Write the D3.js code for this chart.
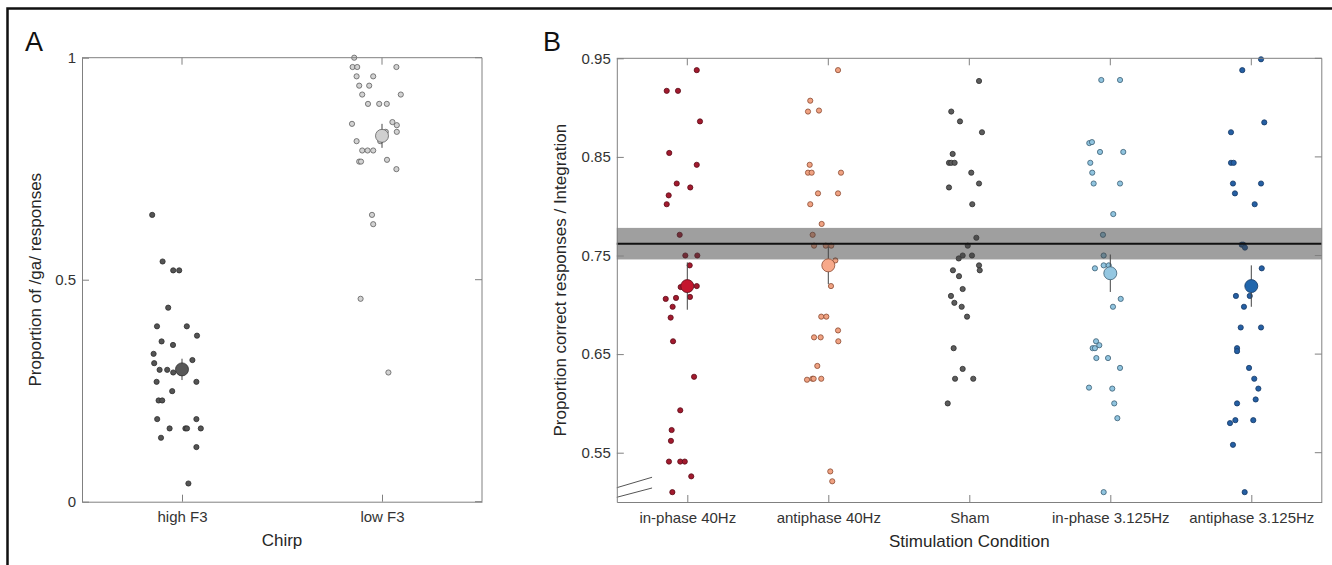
<!DOCTYPE html>
<html lang="en">

<head>
    <meta charset="UTF-8">
    <title>Chirp / Stimulation Condition</title>
    <script src="https://cdnjs.cloudflare.com/ajax/libs/d3/7.9.0/d3.min.js"></script>
    <style>
        body { margin: 0; background: #fff; }
        svg text { font-family: "Liberation Sans", Arial, sans-serif; fill: #262626; }
        .axis path, .axis line { stroke: #808080; }
        .axis text { font-size: 15px; fill: #333; }
    </style>
</head>

<body>
    <div id="chart"></div>

    <script>
        // ---- panel A data ----
        const chirpCats = ['high F3', 'low F3'];
        const chirpTicks = [0, 0.5, 1];
        const highF3Vals = [0.646, 0.541, 0.521, 0.521, 0.437, 0.395, 0.395, 0.374, 0.361, 0.353, 0.333, 0.312, 0.319,
            0.297, 0.297, 0.291, 0.291, 0.270, 0.270, 0.249, 0.228, 0.228, 0.186, 0.186, 0.165, 0.165, 0.165, 0.165,
            0.144, 0.123, 0.041];
        const highF3Jit = [-0.149, -0.097, -0.044, -0.014, -0.069, -0.125, 0.024, 0.075, -0.102, -0.045, -0.142, -0.139, 0.052,
            -0.112, -0.074, -0.044, -0.009, -0.127, 0.072, -0.049, -0.117, -0.099, -0.124, 0.072, -0.062, 0.017, 0.025, 0.094,
            -0.105, 0.072, 0.032];
        const lowF3Vals = [1.0, 0.979, 0.979, 0.979, 0.958, 0.958, 0.937, 0.937, 0.917, 0.917, 0.896, 0.896, 0.896,
            0.851, 0.855, 0.848, 0.833, 0.833, 0.812, 0.812, 0.791, 0.791, 0.791, 0.766, 0.766, 0.770, 0.749,
            0.646, 0.625, 0.457, 0.291];
        const lowF3Jit = [-0.139, -0.147, -0.124, 0.072, -0.127, -0.044, -0.114, -0.064, -0.099, 0.094, -0.070, -0.014, 0.024,
            -0.150, 0.052, 0.074, 0.074, 0.019, -0.009, -0.127, -0.099, -0.072, -0.044, -0.114, -0.105, 0.025, 0.072,
            -0.050, -0.044, -0.107, 0.032];
        const chirpMeans = [0.298, 0.824];
        const chirpErr = [0.024, 0.027];

        // ---- panel B data ----
        const condCats = ['in-phase 40Hz', 'antiphase 40Hz', 'Sham', 'in-phase 3.125Hz', 'antiphase 3.125Hz'];
        const condTicks = [0.55, 0.65, 0.75, 0.85, 0.95];
        const inPhase40Vals = [0.938, 0.917, 0.917, 0.886, 0.854, 0.842, 0.823, 0.819, 0.811, 0.802, 0.771, 0.750, 0.750,
            0.740, 0.718, 0.719, 0.708, 0.706, 0.707, 0.698, 0.687, 0.663, 0.627, 0.593, 0.573, 0.562, 0.541, 0.541,
            0.541, 0.526, 0.510];
        const inPhase40Jit = [0.067, -0.146, -0.066, 0.090, -0.128, 0.067, -0.075, 0.021, -0.132, -0.146, -0.054, -0.014, 0.071,
            0.017, -0.047, 0.067, 0.019, -0.153, -0.080, -0.104, -0.118, -0.101, 0.048, -0.050, -0.111, -0.116, -0.130, -0.050,
            -0.018, 0.028, -0.106];
        const anti40Vals = [0.938, 0.907, 0.896, 0.897, 0.842, 0.834, 0.834, 0.834, 0.813, 0.813, 0.802, 0.782, 0.771,
            0.760, 0.760, 0.760, 0.745, 0.719, 0.688, 0.688, 0.674, 0.667, 0.667, 0.663, 0.638, 0.624, 0.625, 0.625,
            0.625, 0.531, 0.521];
        const anti40Jit = [0.069, -0.128, -0.144, -0.066, -0.132, -0.144, -0.118, 0.090, -0.073, 0.069, -0.128, -0.047, -0.111,
            -0.101, -0.018, 0.021, 0.050, 0.019, -0.050, -0.014, 0.069, -0.101, -0.054, 0.071, -0.078, -0.151, -0.113, -0.104,
            -0.050, 0.014, 0.028];
        const shamVals = [0.927, 0.896, 0.886, 0.875, 0.853, 0.844, 0.844, 0.844, 0.834, 0.823, 0.819, 0.802, 0.768,
            0.760, 0.750, 0.750, 0.747, 0.740, 0.735, 0.735, 0.729, 0.716, 0.709, 0.702, 0.698, 0.688, 0.656, 0.635,
            0.625, 0.625, 0.600];
        const shamJit = [0.069, -0.128, -0.066, 0.090, -0.118, -0.144, -0.128, -0.104, 0.014, 0.069, -0.144, 0.021, 0.050,
            -0.011, -0.047, 0.019, -0.075, 0.069, 0.074, -0.116, -0.073, -0.047, -0.130, -0.106, -0.054, -0.016, -0.111, -0.047,
            -0.101, 0.028, -0.153];
        const inPhase3Vals = [0.928, 0.928, 0.864, 0.865, 0.855, 0.855, 0.844, 0.834, 0.823, 0.823, 0.792, 0.771, 0.750,
            0.737, 0.740, 0.740, 0.706, 0.698, 0.663, 0.656, 0.656, 0.659, 0.646, 0.646, 0.636, 0.616, 0.615, 0.600,
            0.585, 0.510];
        const inPhase3Jit = [-0.064, 0.069, -0.149, -0.130, -0.073, 0.092, -0.142, -0.128, -0.118, 0.069, 0.021, -0.052, -0.047,
            -0.109, -0.047, -0.011, 0.074, 0.019, -0.101, -0.125, -0.109, -0.078, -0.099, -0.016, 0.069, -0.151, 0.014, 0.028,
            0.050, -0.047];
        const anti3Vals = [0.949, 0.938, 0.885, 0.875, 0.844, 0.844, 0.823, 0.823, 0.813, 0.802, 0.761, 0.761, 0.758,
            0.737, 0.709, 0.709, 0.698, 0.677, 0.677, 0.656, 0.653, 0.636, 0.625, 0.615, 0.604, 0.600, 0.580, 0.583,
            0.583, 0.558, 0.510];
        const anti3Jit = [0.069, -0.064, 0.092, -0.144, -0.144, -0.125, -0.130, 0.069, -0.116, 0.024, -0.068, -0.057, -0.045,
            0.074, -0.109, -0.011, -0.052, -0.075, 0.069, -0.101, -0.101, -0.016, 0.021, 0.050, 0.031, -0.101, -0.151, -0.113,
            0.014, -0.130, -0.047];
        const condMeans = [0.719, 0.740, null, 0.732, 0.719];
        const condErr = [0.024, 0.019, null, 0.019, 0.021];
        const shamMean = 0.762;
        const shamBand = [0.746, 0.778];

        const W = 1332, H = 565;
        const svg = d3.select('#chart').append('svg')
            .attr('width', W).attr('height', H);

        // outer figure frame (only left/top edges fall inside the window)
        svg.append('rect')
            .attr('x', 7.5).attr('y', 8.5)
            .attr('width', W + 20).attr('height', H + 20)
            .attr('fill', 'none').attr('stroke', '#111').attr('stroke-width', 2.5);

        function drawPoints(g, x, y, cat, vals, jit, fill, edge) {
            g.selectAll(null)
                .data(vals.map((v, i) => ({ v, j: jit[i] })))
                .enter().append('circle')
                .attr('cx', d => x(cat + d.j))
                .attr('cy', d => y(d.v))
                .attr('r', 2.6)
                .attr('fill', fill)
                .attr('stroke', edge)
                .attr('stroke-width', 0.8);
        }

        function drawMean(g, x, y, cat, m, e, fill, edge, r) {
            g.append('line')
                .attr('x1', x(cat)).attr('x2', x(cat))
                .attr('y1', y(m - e)).attr('y2', y(m + e))
                .attr('stroke', '#444').attr('stroke-width', 1);
            g.append('circle')
                .attr('cx', x(cat)).attr('cy', y(m))
                .attr('r', r)
                .attr('fill', fill).attr('stroke', edge).attr('stroke-width', 0.8);
        }

        function drawBox(g, x, y, xDomain, yDomain, xTicks, yTicks) {
            const x0 = x(xDomain[0]), x1 = x(xDomain[1]);
            const y0 = y(yDomain[0]), y1 = y(yDomain[1]);
            // top and right edges with inward ticks (matlab style box)
            g.append('line').attr('x1', x0).attr('x2', x1).attr('y1', y1).attr('y2', y1)
                .attr('stroke', '#808080');
            g.append('line').attr('x1', x1).attr('x2', x1).attr('y1', y0).attr('y2', y1)
                .attr('stroke', '#808080');
            g.selectAll(null).data(xTicks).enter().append('line')
                .attr('x1', d => x(d)).attr('x2', d => x(d))
                .attr('y1', y1).attr('y2', y1 + 7)
                .attr('stroke', '#808080');
            g.selectAll(null).data(yTicks).enter().append('line')
                .attr('x1', x1).attr('x2', x1 - 7)
                .attr('y1', d => y(d)).attr('y2', d => y(d))
                .attr('stroke', '#808080');
        }

        // ================= Panel A =================
        const xA = d3.scaleLinear().domain([0.5, 2.5]).range([82, 482]);
        const yA = d3.scaleLinear().domain([0, 1]).range([501.7, 57.7]);
        const gA = svg.append('g');

        drawPoints(gA, xA, yA, 1, highF3Vals, highF3Jit, '#545454', '#2e2e2e');
        drawPoints(gA, xA, yA, 2, lowF3Vals, lowF3Jit, '#d2d2d2', '#5e5e5e');
        drawMean(gA, xA, yA, 1, chirpMeans[0], chirpErr[0], '#585858', '#2e2e2e', 6.5);
        drawMean(gA, xA, yA, 2, chirpMeans[1], chirpErr[1], '#cfcfcf', '#5e5e5e', 6.5);

        gA.append('g').attr('class', 'axis')
            .attr('transform', `translate(0,${yA(0)})`)
            .call(d3.axisBottom(xA).tickValues([1, 2]).tickFormat(d => chirpCats[d - 1])
                .tickSizeInner(-7).tickSizeOuter(0).tickPadding(10));
        gA.append('g').attr('class', 'axis')
            .attr('transform', `translate(${xA(0.5)},0)`)
            .call(d3.axisLeft(yA).tickValues(chirpTicks).tickFormat(d3.format('~g'))
                .tickSizeInner(-7).tickSizeOuter(0).tickPadding(6));
        drawBox(gA, xA, yA, [0.5, 2.5], [0, 1], [1, 2], chirpTicks);

        svg.append('text').attr('x', 282).attr('y', 546)
            .attr('text-anchor', 'middle').style('font-size', '17px').text('Chirp');
        svg.append('text')
            .attr('transform', `translate(41,${yA(0.5)}) rotate(-90)`)
            .attr('text-anchor', 'middle').style('font-size', '17px')
            .text('Proportion of /ga/ responses');
        svg.append('text').attr('x', 25).attr('y', 51)
            .style('font-size', '27px').style('fill', '#111').text('A');

        // ================= Panel B =================
        const xB = d3.scaleLinear().domain([0.5, 5.5]).range([616.8, 1321.8]);
        const yB = d3.scaleLinear().domain([0.5, 0.95]).range([502, 58.3]);
        const gB = svg.append('g');

        drawPoints(gB, xB, yB, 1, inPhase40Vals, inPhase40Jit, '#a21a2e', '#5c0c18');
        drawPoints(gB, xB, yB, 2, anti40Vals, anti40Jit, '#f0a282', '#8a4b34');
        drawPoints(gB, xB, yB, 3, shamVals, shamJit, '#5c5c5c', '#2e2e2e');
        drawPoints(gB, xB, yB, 4, inPhase3Vals, inPhase3Jit, '#90c4df', '#3b5e74');
        drawPoints(gB, xB, yB, 5, anti3Vals, anti3Jit, '#255fa3', '#163a66');

        // sham mean with its band, drawn over the points
        gB.append('rect')
            .attr('x', xB(0.5)).attr('width', xB(5.5) - xB(0.5))
            .attr('y', yB(shamBand[1])).attr('height', yB(shamBand[0]) - yB(shamBand[1]))
            .attr('fill', '#404040').attr('fill-opacity', 0.5);
        gB.append('line')
            .attr('x1', xB(0.5)).attr('x2', xB(5.5))
            .attr('y1', yB(shamMean)).attr('y2', yB(shamMean))
            .attr('stroke', '#111').attr('stroke-width', 2);

        const meanFill = ['#c4162e', '#f7a98a', null, '#94c7e1', '#2166ac'];
        const meanEdge = ['#5c0c18', '#8a4b34', null, '#3b5e74', '#163a66'];
        condMeans.forEach((m, i) => {
            if (m === null) return;
            drawMean(gB, xB, yB, i + 1, m, condErr[i], meanFill[i], meanEdge[i], 6.5);
        });

        // axis break marks
        const breakX = [0.5, 0.75];
        const breakY = [[0.5145, 0.5251], [0.5048, 0.5142]];
        breakY.forEach(b => {
            gB.append('line')
                .attr('x1', xB(breakX[0])).attr('x2', xB(breakX[1]))
                .attr('y1', yB(b[0])).attr('y2', yB(b[1]))
                .attr('stroke', '#555').attr('stroke-width', 1);
        });

        gB.append('g').attr('class', 'axis')
            .attr('transform', `translate(0,${yB(0.5)})`)
            .call(d3.axisBottom(xB).tickValues([1, 2, 3, 4, 5]).tickFormat(d => condCats[d - 1])
                .tickSizeInner(-7).tickSizeOuter(0).tickPadding(10));
        gB.append('g').attr('class', 'axis')
            .attr('transform', `translate(${xB(0.5)},0)`)
            .call(d3.axisLeft(yB).tickValues(condTicks).tickFormat(d3.format('.2f'))
                .tickSizeInner(-7).tickSizeOuter(0).tickPadding(6));
        drawBox(gB, xB, yB, [0.5, 5.5], [0.5, 0.95], [1, 2, 3, 4, 5], condTicks);

        svg.append('text').attr('x', xB(3)).attr('y', 547)
            .attr('text-anchor', 'middle').style('font-size', '17px').text('Stimulation Condition');
        svg.append('text')
            .attr('transform', `translate(566,${(yB(0.5) + yB(0.95)) / 2}) rotate(-90)`)
            .attr('text-anchor', 'middle').style('font-size', '17px')
            .text('Proportion correct responses / Integration');
        svg.append('text').attr('x', 543).attr('y', 51)
            .style('font-size', '27px').style('fill', '#111').text('B');
    </script>
</body>

</html>
